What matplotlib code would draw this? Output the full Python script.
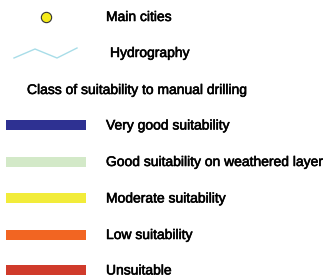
import matplotlib
matplotlib.use("Agg")
import matplotlib.pyplot as plt
import matplotlib.patheffects as pe

plt.rcParams['font.family'] = ['Liberation Sans', 'DejaVu Sans']

city_label = "Main cities"
hydro_label = "Hydrography"
section_title = "Class of suitability to manual drilling"
class_labels = ["Very good suitability", "Good suitability on weathered layer",
                "Moderate suitability", "Low suitability", "Unsuitable"]
class_colors = ["#2e3192", "#d3e9c8", "#f2ec3a", "#f26522", "#d03b2b"]

W, H = 329, 278
fig = plt.figure(figsize=(W / 100, H / 100), dpi=100)
ax = fig.add_axes([0, 0, 1, 1])
ax.set_xlim(0, W)
ax.set_ylim(H, 0)
ax.axis('off')

fs = 10
eff = [pe.withStroke(linewidth=0.4, foreground='black')]
# Main cities
ax.scatter([46], [17], s=55, color="#f5eb1a", edgecolors="#333333", linewidths=0.8, zorder=3)
ax.text(106, 17, city_label, fontsize=fs, va='center', ha='left', color='black', path_effects=eff)

# Hydrography
ax.plot([14, 35, 57, 77], [58, 49, 58, 48], color="#a8dde8", lw=1.0)
ax.text(110, 53, hydro_label, fontsize=fs, va='center', ha='left', color='black', path_effects=eff)

ax.text(27, 90, section_title, fontsize=fs, va='center', ha='left', color='black', path_effects=eff)

ys = [125, 161.5, 198, 234.5, 270]
ax.barh(ys, [80] * len(ys), left=6, height=10, color=class_colors)
for y, lab in zip(ys, class_labels):
    ax.text(106, y + 0.5, lab, fontsize=fs, va='center', ha='left', color='black', path_effects=eff)

fig.savefig("out.png", dpi=100)
